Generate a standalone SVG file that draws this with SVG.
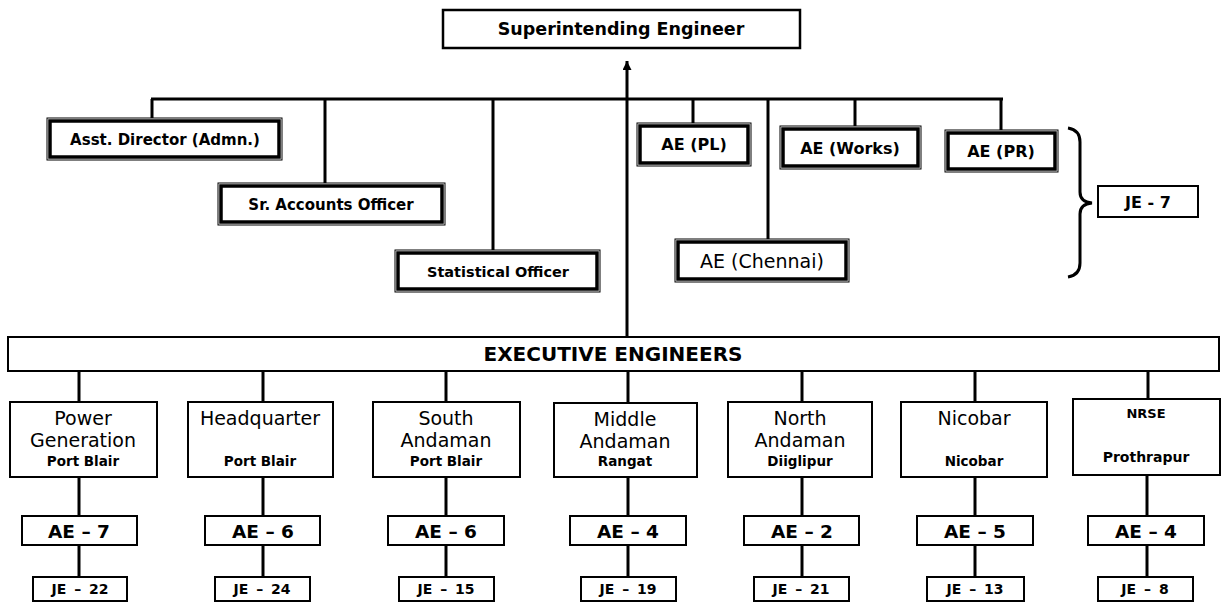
<svg xmlns="http://www.w3.org/2000/svg" width="1223" height="607" viewBox="0 0 1223 607">
<style>
text{font-family:"DejaVu Sans","Liberation Sans",Arial,sans-serif;fill:#000;text-anchor:middle}
.b{font-weight:bold}
.outer{fill:none;stroke:#000;stroke-width:1}
.inner{fill:#fff;stroke:#000;stroke-width:3.5}
.box{fill:#fff;stroke:#000;stroke-width:2}
.con{stroke:#000;stroke-width:3;fill:none}
.staff{font-size:15px}
.aes{font-size:16px}
.big{font-size:19px}
.sm{font-size:13.5px}
.aen{font-size:18.5px}
.jen{font-size:14px;word-spacing:3px}
</style>
<defs>
<marker id="ah" viewBox="0 0 10 10" refX="10" refY="5" markerWidth="10" markerHeight="9" markerUnits="userSpaceOnUse" orient="auto">
<path d="M0,0 L10,5 L0,10 Z" fill="#000"/>
</marker>
</defs>
<rect width="1223" height="607" fill="#fff"/>
<g id="connectors">
<line class="con" x1="627" y1="337" x2="627" y2="61" stroke-width="2.5" marker-end="url(#ah)"/>
<line class="con" x1="151" y1="99" x2="1003" y2="99"/>
<line class="con" x1="152" y1="99" x2="152" y2="118"/>
<line class="con" x1="325" y1="99" x2="325" y2="183" stroke-width="2.5"/>
<line class="con" x1="493" y1="99" x2="493" y2="250" stroke-width="2.5"/>
<line class="con" x1="693" y1="99" x2="693" y2="123"/>
<line class="con" x1="768" y1="99" x2="768" y2="239" stroke-width="2.5"/>
<line class="con" x1="855" y1="99" x2="855" y2="126"/>
<line class="con" x1="1001" y1="99" x2="1001" y2="130"/>
<path class="con" stroke-width="2.5" d="M1068,128 Q1080,130 1080,142 L1080,192 Q1080,202 1092,203 Q1080,204 1080,214 L1080,263 Q1080,275 1068,277"/>
<g>
<line class="con" x1="79" y1="371" x2="79" y2="402"/>
<line class="con" x1="263" y1="371" x2="263" y2="402"/>
<line class="con" x1="446" y1="371" x2="446" y2="402"/>
<line class="con" x1="628" y1="371" x2="628" y2="402"/>
<line class="con" x1="802" y1="371" x2="802" y2="402"/>
<line class="con" x1="975" y1="371" x2="975" y2="402"/>
<line class="con" x1="1148" y1="371" x2="1148" y2="399"/>
</g>
<g>
<line class="con" x1="79" y1="477" x2="79" y2="516"/>
<line class="con" x1="263" y1="477" x2="263" y2="516"/>
<line class="con" x1="446" y1="477" x2="446" y2="516"/>
<line class="con" x1="628" y1="477" x2="628" y2="516"/>
<line class="con" x1="802" y1="477" x2="802" y2="516"/>
<line class="con" x1="975" y1="477" x2="975" y2="516"/>
<line class="con" x1="1147" y1="475" x2="1147" y2="516"/>
</g>
<g>
<line class="con" x1="79" y1="545" x2="79" y2="577"/>
<line class="con" x1="263" y1="545" x2="263" y2="577"/>
<line class="con" x1="446" y1="545" x2="446" y2="577"/>
<line class="con" x1="628" y1="545" x2="628" y2="577"/>
<line class="con" x1="802" y1="545" x2="802" y2="577"/>
<line class="con" x1="975" y1="545" x2="975" y2="577"/>
<line class="con" x1="1147" y1="545" x2="1147" y2="577"/>
</g>
</g>
<g id="superintending-engineer">
<rect x="443" y="10" width="357" height="38" fill="#fff" stroke="#000" stroke-width="2.5"/>
<text class="b" x="621" y="35" font-size="17.5">Superintending Engineer</text>
</g>
<g id="asst-director">
<rect class="outer" x="47" y="118" width="235" height="42"/>
<rect class="inner" x="50" y="121" width="229" height="36"/>
<text class="b staff" x="165" y="145">Asst. Director (Admn.)</text>
</g>
<g id="sr-accounts-officer">
<rect class="outer" x="218" y="183" width="227" height="42"/>
<rect class="inner" x="221" y="186" width="221" height="36"/>
<text class="b staff" x="331" y="210">Sr. Accounts Officer</text>
</g>
<g id="statistical-officer">
<rect class="outer" x="395" y="250" width="205" height="42"/>
<rect class="inner" x="398" y="253" width="199" height="36"/>
<text class="b" x="498" y="277" font-size="14.5">Statistical Officer</text>
</g>
<g id="ae-pl">
<rect class="outer" x="637" y="123" width="114" height="43"/>
<rect class="inner" x="640" y="126" width="108" height="37"/>
<text class="b aes" x="694" y="150">AE (PL)</text>
</g>
<g id="ae-chennai">
<rect class="outer" x="675" y="239" width="174" height="43"/>
<rect class="inner" x="678" y="242" width="168" height="37"/>
<text class="big" x="762" y="268">AE (Chennai)</text>
</g>
<g id="ae-works">
<rect class="outer" x="780" y="126" width="141" height="43"/>
<rect class="inner" x="783" y="129" width="135" height="37"/>
<text class="b aes" x="850" y="154">AE (Works)</text>
</g>
<g id="ae-pr">
<rect class="outer" x="945" y="130" width="113" height="42"/>
<rect class="inner" x="948" y="133" width="107" height="36"/>
<text class="b aes" x="1001" y="157">AE (PR)</text>
</g>
<g id="je-7">
<rect class="box" x="1098" y="186" width="100" height="31"/>
<text class="b aes" x="1148" y="208">JE - 7</text>
</g>
<g id="executive-engineers">
<rect class="box" x="8" y="337" width="1211" height="34"/>
<text class="b" x="613" y="361" font-size="20">EXECUTIVE ENGINEERS</text>
</g>
<g id="ee-power-generation">
<rect class="box" x="10" y="402" width="147" height="75"/>
<text class="big" x="83" y="425">Power</text>
<text class="big" x="83" y="447">Generation</text>
<text class="b sm" x="83" y="466">Port Blair</text>
</g>
<g id="ee-headquarter">
<rect class="box" x="188" y="402" width="145" height="75"/>
<text class="big" x="260" y="425">Headquarter</text>
<text class="b sm" x="260" y="466">Port Blair</text>
</g>
<g id="ee-south-andaman">
<rect class="box" x="373" y="402" width="147" height="75"/>
<text class="big" x="446" y="425">South</text>
<text class="big" x="446" y="447">Andaman</text>
<text class="b sm" x="446" y="466">Port Blair</text>
</g>
<g id="ee-middle-andaman">
<rect class="box" x="554" y="403" width="143" height="74"/>
<text class="big" x="625" y="426">Middle</text>
<text class="big" x="625" y="448">Andaman</text>
<text class="b sm" x="625" y="466">Rangat</text>
</g>
<g id="ee-north-andaman">
<rect class="box" x="728" y="402" width="144" height="75"/>
<text class="big" x="800" y="425">North</text>
<text class="big" x="800" y="447">Andaman</text>
<text class="b sm" x="800" y="466">Diiglipur</text>
</g>
<g id="ee-nicobar">
<rect class="box" x="901" y="402" width="146" height="75"/>
<text class="big" x="974" y="425">Nicobar</text>
<text class="b sm" x="974" y="466">Nicobar</text>
</g>
<g id="ee-nrse">
<rect class="box" x="1073" y="399" width="147" height="76"/>
<text class="b" x="1146" y="418" font-size="13">NRSE</text>
<text class="b" x="1146" y="462" font-size="14">Prothrapur</text>
</g>
<g id="ae-counts">
<g id="ae-7"><rect class="box" x="22" y="516" width="115" height="29"/><text class="b aen" x="79" y="538">AE – 7</text></g>
<g id="ae-6a"><rect class="box" x="205" y="516" width="115" height="29"/><text class="b aen" x="263" y="538">AE – 6</text></g>
<g id="ae-6b"><rect class="box" x="388" y="516" width="116" height="29"/><text class="b aen" x="446" y="538">AE – 6</text></g>
<g id="ae-4a"><rect class="box" x="570" y="516" width="116" height="29"/><text class="b aen" x="628" y="538">AE – 4</text></g>
<g id="ae-2"><rect class="box" x="744" y="516" width="115" height="29"/><text class="b aen" x="802" y="538">AE – 2</text></g>
<g id="ae-5"><rect class="box" x="917" y="516" width="116" height="29"/><text class="b aen" x="975" y="538">AE – 5</text></g>
<g id="ae-4b"><rect class="box" x="1088" y="516" width="116" height="29"/><text class="b aen" x="1146" y="538">AE – 4</text></g>
</g>
<g id="je-counts">
<g id="je-22"><rect class="box" x="33" y="577" width="94" height="24"/><text class="b jen" x="80" y="594">JE – 22</text></g>
<g id="je-24"><rect class="box" x="215" y="577" width="95" height="24"/><text class="b jen" x="262" y="594">JE – 24</text></g>
<g id="je-15"><rect class="box" x="399" y="577" width="95" height="24"/><text class="b jen" x="446" y="594">JE – 15</text></g>
<g id="je-19"><rect class="box" x="581" y="577" width="95" height="24"/><text class="b jen" x="628" y="594">JE – 19</text></g>
<g id="je-21"><rect class="box" x="754" y="577" width="95" height="24"/><text class="b jen" x="801" y="594">JE – 21</text></g>
<g id="je-13"><rect class="box" x="927" y="577" width="97" height="24"/><text class="b jen" x="975" y="594">JE – 13</text></g>
<g id="je-8"><rect class="box" x="1098" y="577" width="95" height="24"/><text class="b jen" x="1145" y="594">JE – 8</text></g>
</g>
</svg>
